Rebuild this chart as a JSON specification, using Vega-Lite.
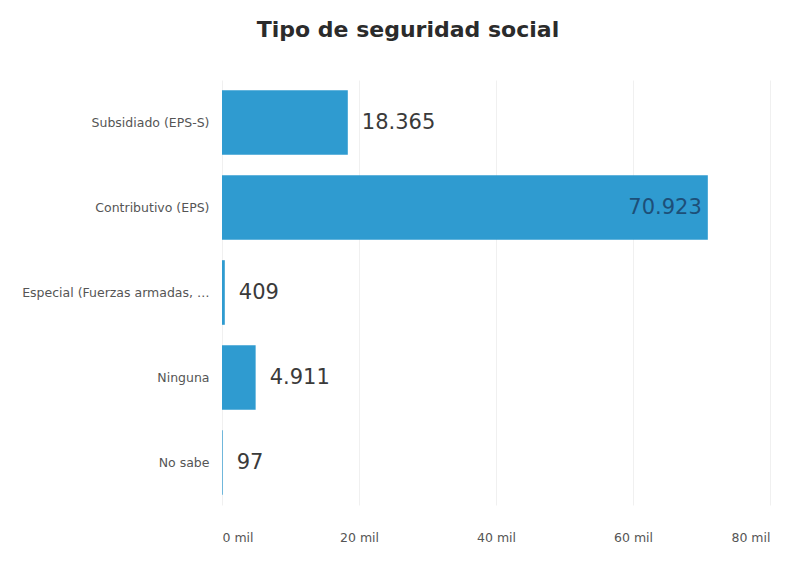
{
  "$schema": "https://vega.github.io/schema/vega-lite/v6.json",
  "autosize": "none",
  "width": 548,
  "height": 425,
  "padding": {"left": 222, "top": 80, "right": 20, "bottom": 57},
  "background": "#ffffff",
  "config": {
    "view": {"stroke": null},
    "font": "DejaVu Sans",
    "locale": {"number": {"decimal": ",", "thousands": ".", "grouping": [3], "currency": ["$", ""]}}
  },
  "title": {
    "text": "Tipo de seguridad social",
    "fontSize": 22,
    "fontWeight": "bold",
    "font": "DejaVu Sans",
    "color": "#2b2b2b",
    "anchor": "middle",
    "dx": -88,
    "offset": 38
  },
  "data": {
    "values": [
      {"tipo": "Subsidiado (EPS-S)", "valor": 18365},
      {"tipo": "Contributivo (EPS)", "valor": 70923},
      {"tipo": "Especial (Fuerzas armadas, Ecopetrol, universidades públicas)", "valor": 409},
      {"tipo": "Ninguna", "valor": 4911},
      {"tipo": "No sabe", "valor": 97}
    ]
  },
  "encoding": {
    "y": {
      "field": "tipo",
      "type": "nominal",
      "sort": null,
      "title": null,
      "scale": {"paddingInner": 0.24, "paddingOuter": 0.12},
      "axis": {
        "domain": false,
        "ticks": false,
        "labelFontSize": 12.5,
        "labelColor": "#555555",
        "labelPadding": 13,
        "labelLimit": 190
      }
    },
    "x": {
      "field": "valor",
      "type": "quantitative",
      "title": null,
      "scale": {"domain": [0, 80000]},
      "axis": {
        "values": [0, 20000, 40000, 60000, 80000],
        "labelExpr": "datum.value / 1000 + ' mil'",
        "domain": false,
        "ticks": false,
        "grid": true,
        "gridColor": "#f0f0f0",
        "labelFontSize": 12.5,
        "labelColor": "#555555",
        "labelPadding": 26
      }
    }
  },
  "layer": [
    {"mark": {"type": "bar", "color": "#2f9bd0"}},
    {
      "transform": [{"filter": "datum.valor < 60000"}],
      "mark": {"type": "text", "align": "left", "dx": 14, "fontSize": 21, "color": "#3a3a3a"},
      "encoding": {"text": {"field": "valor", "type": "quantitative", "format": ",d"}}
    },
    {
      "transform": [{"filter": "datum.valor >= 60000"}],
      "mark": {"type": "text", "align": "right", "dx": -6, "fontSize": 21, "color": "#1d4f78"},
      "encoding": {"text": {"field": "valor", "type": "quantitative", "format": ",d"}}
    }
  ]
}
